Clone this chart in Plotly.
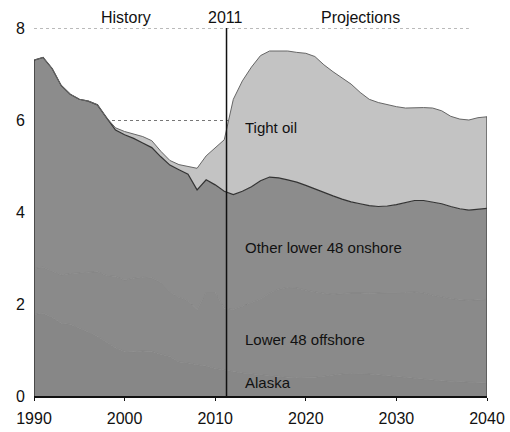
import plotly.graph_objects as go

years = list(range(1990, 2041))

alaska = [1.77, 1.80, 1.71, 1.58, 1.56, 1.48, 1.39, 1.30, 1.17, 1.05,
          0.97, 0.96, 0.98, 0.97, 0.91, 0.86, 0.74, 0.72, 0.68, 0.65,
          0.60, 0.56, 0.53, 0.50, 0.48, 0.46, 0.44, 0.42, 0.41, 0.40,
          0.40, 0.41, 0.43, 0.46, 0.48, 0.49, 0.49, 0.48, 0.46, 0.44,
          0.42, 0.40, 0.38, 0.36, 0.34, 0.33, 0.32, 0.31, 0.30, 0.29, 0.28]

offshore = [1.00, 1.00, 1.00, 1.05, 1.10, 1.20, 1.30, 1.40, 1.45, 1.55,
            1.55, 1.60, 1.60, 1.60, 1.55, 1.40, 1.40, 1.35, 1.20, 1.60,
            1.65, 1.35, 1.35, 1.45, 1.55, 1.65, 1.80, 1.90, 1.95, 1.95,
            1.90, 1.85, 1.80, 1.75, 1.75, 1.75, 1.75, 1.75, 1.78, 1.80,
            1.82, 1.85, 1.88, 1.88, 1.85, 1.82, 1.80, 1.78, 1.78, 1.80, 1.82]

onshore = [4.53, 4.56, 4.41, 4.12, 3.90, 3.77, 3.72, 3.63, 3.43, 3.18,
           3.16, 3.04, 2.92, 2.83, 2.74, 2.76, 2.78, 2.75, 2.60, 2.45,
           2.34, 2.54, 2.50, 2.50, 2.52, 2.57, 2.52, 2.42, 2.34, 2.30,
           2.28, 2.24, 2.19, 2.14, 2.05, 1.98, 1.94, 1.91, 1.88, 1.89,
           1.92, 1.95, 1.99, 2.01, 2.03, 2.03, 2.00, 1.98, 1.96, 1.97, 1.98]

tight = [0.00, 0.00, 0.00, 0.00, 0.00, 0.00, 0.00, 0.00, 0.00, 0.05,
         0.07, 0.10, 0.14, 0.15, 0.12, 0.10, 0.11, 0.17, 0.47, 0.52,
         0.80, 1.12, 2.07, 2.40, 2.60, 2.72, 2.74, 2.76, 2.80, 2.82,
         2.87, 2.88, 2.78, 2.70, 2.64, 2.56, 2.42, 2.31, 2.26, 2.20,
         2.13, 2.06, 2.02, 2.02, 2.04, 2.02, 1.96, 1.95, 1.96, 1.99, 1.99]

series_names = ["Alaska", "Lower 48 offshore", "Other lower 48 onshore", "Tight oil"]
y_ticks = [0, 2, 4, 6, 8]
x_ticks = [1990, 2000, 2010, 2020, 2030, 2040]
split_year = 2011

FONT = "Liberation Sans, Arial, sans-serif"

fig = go.Figure()
specs = [
    (alaska, "#878787", "#818181", 0.8),
    (offshore, "#8a8a8a", "#828282", 0.8),
    (onshore, "#8c8c8c", "#333333", 1.2),
    (tight, "#c3c3c3", "#666666", 1.0),
]
for name, (vals, fill, lc, lw) in zip(series_names, specs):
    fig.add_trace(go.Scatter(
        x=years, y=vals, name=name, mode="lines",
        stackgroup="one", fillcolor=fill,
        line=dict(color=lc, width=lw),
        showlegend=False, hoverinfo="skip"))

total_first = alaska[0] + offshore[0] + onshore[0] + tight[0]
total_last = alaska[-1] + offshore[-1] + onshore[-1] + tight[-1]

shapes = [
    dict(type="line", xref="x", yref="y", x0=years[0], x1=years[0], y0=0, y1=total_first,
         line=dict(color="#222222", width=1.2)),
    dict(type="line", xref="x", yref="y", x0=years[-1], x1=years[-1], y0=0, y1=total_last,
         line=dict(color="#444444", width=1.2)),
    dict(type="line", xref="x", yref="paper", x0=split_year + 0.25, x1=split_year + 0.25,
         y0=0, y1=1, line=dict(color="#111111", width=1.5)),
    dict(type="line", xref="x", yref="y", x0=years[0], x1=2038, y0=y_ticks[-1], y1=y_ticks[-1],
         line=dict(color="#777777", width=1, dash="dot"), layer="below"),
]

annotations = [
    dict(text="History", x=2000.2, y=1.0, xref="x", yref="paper", yanchor="bottom",
         showarrow=False, font=dict(size=16, color="#111", family=FONT)),
    dict(text=str(split_year), x=split_year + 0.1, y=1.0, xref="x", yref="paper", yanchor="bottom",
         showarrow=False, font=dict(size=16, color="#111", family=FONT)),
    dict(text="Projections", x=2026, y=1.0, xref="x", yref="paper", yanchor="bottom",
         showarrow=False, font=dict(size=16, color="#111", family=FONT)),
]
label_pos = {"Tight oil": 5.83, "Other lower 48 onshore": 3.22,
             "Lower 48 offshore": 1.22, "Alaska": 0.30}
for name in series_names:
    annotations.append(dict(text=name, x=2013.1, y=label_pos[name], xref="x", yref="y",
                            xanchor="left", yanchor="middle", showarrow=False,
                            font=dict(size=15, color="#111", family=FONT)))

fig.update_layout(
    width=510, height=432,
    margin=dict(l=34, r=23, t=28, b=36),
    paper_bgcolor="white", plot_bgcolor="white",
    shapes=shapes, annotations=annotations,
    font=dict(family=FONT, size=16, color="#111"),
)
fig.update_xaxes(range=[1990, 2040], tickvals=x_ticks, ticks="outside", ticklen=3,
                 tickcolor="#111", showline=True, linecolor="#111", linewidth=1.5,
                 showgrid=False, zeroline=False, automargin=False, ticklabelstandoff=4,
                 tickfont=dict(size=16, family=FONT))
fig.update_yaxes(range=[0, 8], tickvals=y_ticks, showline=False, zeroline=False,
                 showgrid=True, gridcolor="#777777", griddash="dot", gridwidth=1,
                 ticks="", ticklabelstandoff=8, automargin=False,
                 tickfont=dict(size=16, family=FONT))

fig.write_html("out.html",
               config={"displayModeBar": False, "staticPlot": True},
               post_script="document.body.style.margin='0';document.body.style.overflow='hidden';")
